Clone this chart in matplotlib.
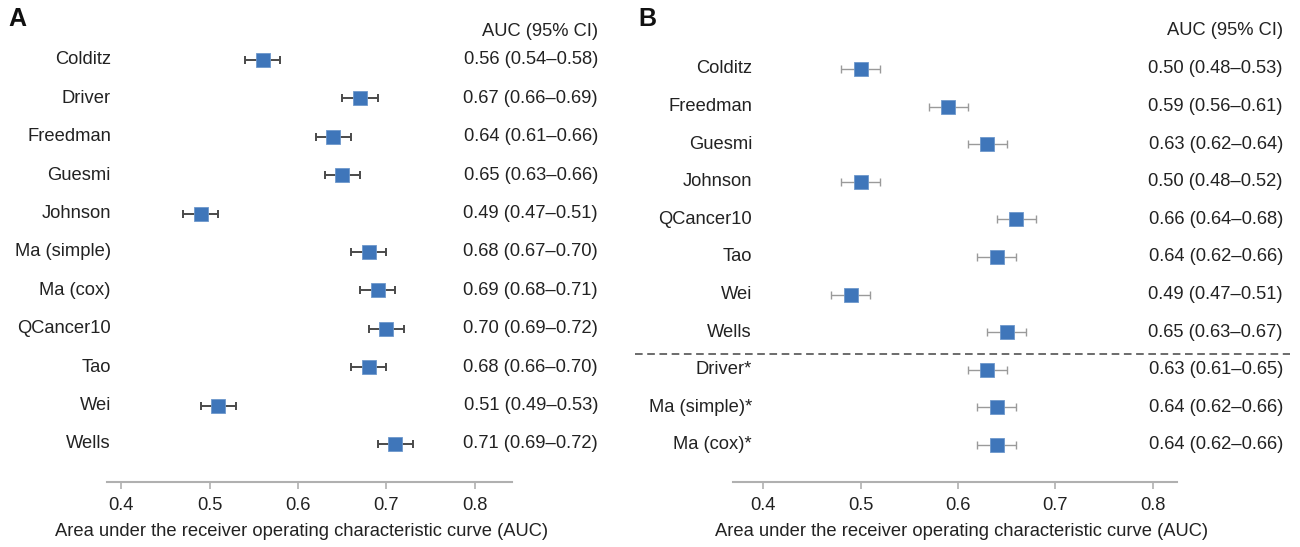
import matplotlib
matplotlib.use("Agg")
import matplotlib.pyplot as plt
from matplotlib.transforms import blended_transform_factory
from matplotlib.lines import Line2D

plt.rcParams['font.family'] = ['Liberation Sans', 'DejaVu Sans']

# panel A: all models
models_a = ["Colditz", "Driver", "Freedman", "Guesmi", "Johnson", "Ma (simple)",
            "Ma (cox)", "QCancer10", "Tao", "Wei", "Wells"]
auc_a = [0.56, 0.67, 0.64, 0.65, 0.49, 0.68, 0.69, 0.70, 0.68, 0.51, 0.71]
lo_a = [0.54, 0.66, 0.61, 0.63, 0.47, 0.67, 0.68, 0.69, 0.66, 0.49, 0.69]
hi_a = [0.58, 0.69, 0.66, 0.66, 0.51, 0.70, 0.71, 0.72, 0.70, 0.53, 0.72]
# whisker ends as drawn in the figure
wlo_a = [0.54, 0.65, 0.62, 0.63, 0.47, 0.66, 0.67, 0.68, 0.66, 0.49, 0.69]
whi_a = [0.58, 0.69, 0.66, 0.67, 0.51, 0.70, 0.71, 0.72, 0.70, 0.53, 0.73]

# panel B: subgroup, starred rows below the dashed line
models_b = ["Colditz", "Freedman", "Guesmi", "Johnson", "QCancer10", "Tao", "Wei",
            "Wells", "Driver*", "Ma (simple)*", "Ma (cox)*"]
auc_b = [0.50, 0.59, 0.63, 0.50, 0.66, 0.64, 0.49, 0.65, 0.63, 0.64, 0.64]
lo_b = [0.48, 0.56, 0.62, 0.48, 0.64, 0.62, 0.47, 0.63, 0.61, 0.62, 0.62]
hi_b = [0.53, 0.61, 0.64, 0.52, 0.68, 0.66, 0.51, 0.67, 0.65, 0.66, 0.66]
wlo_b = [0.48, 0.57, 0.61, 0.48, 0.64, 0.62, 0.47, 0.63, 0.61, 0.62, 0.62]
whi_b = [0.52, 0.61, 0.65, 0.52, 0.68, 0.66, 0.51, 0.67, 0.65, 0.66, 0.66]

ticks = [0.4, 0.5, 0.6, 0.7, 0.8]
xlabel = "Area under the receiver operating characteristic curve (AUC)"

W, H = 1300, 547
fig = plt.figure(figsize=(W / 100, H / 100), dpi=100)

BLUE = "#3f76ba"
TXT = "#222222"
FS = 13.2


def fx(px):
    return px / W


def fy(py):
    return 1 - py / H


def panel(letter, names, auc, lo, hi, wlo, whi, ax_px, xlim, y0, dy, label_x,
          ci_x, err_color, err_lw, letter_x, xlabel_x, split=None):
    left, right = ax_px
    ax = fig.add_axes([fx(left), fy(482), fx(right) - fx(left), fy(20) - fy(482)])
    rows = list(range(len(names)))
    xerr = [[a - l for a, l in zip(auc, wlo)], [h - a for a, h in zip(auc, whi)]]
    ax.errorbar(auc, rows, xerr=xerr, fmt="none", ecolor=err_color,
                elinewidth=err_lw, capsize=3, capthick=err_lw, zorder=2)
    ax.plot(auc, rows, "s", color=BLUE, markersize=9.5,
            markeredgecolor="#6d98cc", markeredgewidth=0.6, zorder=3)
    ax.set_xlim(*xlim)
    ax.set_ylim((482 - y0) / dy, (20 - y0) / dy)
    ax.set_xticks(ticks)
    ax.set_xticklabels([str(t) for t in ticks], fontsize=FS)
    ax.set_yticks([])
    for s in ["top", "right", "left"]:
        ax.spines[s].set_visible(False)
    ax.spines["bottom"].set_color("#b0b0b0")
    ax.spines["bottom"].set_linewidth(1.5)
    ax.tick_params(axis="x", colors="#b0b0b0", length=5, width=1.2, pad=6,
                   labelcolor=TXT)
    fig.text(fx(xlabel_x), fy(532), xlabel, fontsize=FS, color=TXT,
             ha="center", va="center")

    tr = blended_transform_factory(fig.transFigure, ax.transData)
    for i, (n, a, l, h) in enumerate(zip(names, auc, lo, hi)):
        ax.text(fx(label_x), i, n, transform=tr, ha="right", va="center",
                fontsize=FS, color=TXT, clip_on=False)
        ax.text(fx(ci_x), i, f"{a:.2f} ({l:.2f}\u2013{h:.2f})", transform=tr,
                ha="right", va="center", fontsize=FS, color=TXT, clip_on=False)
    ax.text(fx(ci_x), (31 - y0) / dy, "AUC (95% CI)", transform=tr, ha="right",
            va="center", fontsize=FS, color=TXT, clip_on=False)
    fig.text(fx(letter_x), fy(19), letter, fontsize=18, fontweight="bold",
             ha="left", va="center", color="#111111")
    if split is not None:
        ys = (split - y0) / dy
        ax.add_line(Line2D([fx(635), fx(1290)], [ys, ys], transform=tr,
                           color="#444444", linewidth=1.1, linestyle=(0, (5, 3)),
                           clip_on=False))
    return ax


panel("A", models_a, auc_a, lo_a, hi_a, wlo_a, whi_a, (107, 512), (0.384, 0.842),
      60, 38.4, 111, 598, "#4a4a4a", 1.4, 8, 302)
panel("B", models_b, auc_b, lo_b, hi_b, wlo_b, whi_b, (733, 1177), (0.369, 0.825),
      69, 37.6, 752, 1283, "#9a9a9a", 1.0, 638, 962, split=354)

fig.savefig("out.png", dpi=100)
